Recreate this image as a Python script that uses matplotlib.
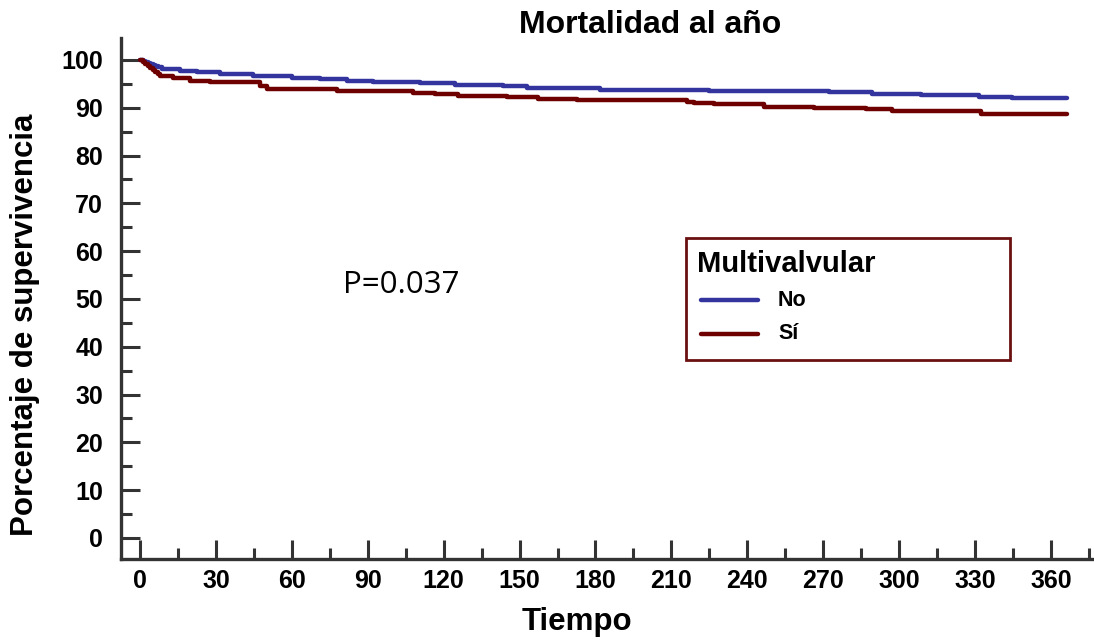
import matplotlib
matplotlib.use("Agg")
import matplotlib.pyplot as plt
from matplotlib.lines import Line2D
from matplotlib.patches import Rectangle
from matplotlib.ticker import MultipleLocator

# ---- data ----
t_no = [0, 1, 2, 3, 4, 5, 6, 7, 8.7, 15.8, 22.5, 31.6, 44.6, 60, 71, 81.7, 92,
        110.5, 124.4, 143.3, 152.8, 181.6, 225, 272.4, 289.4, 308.7, 331.6,
        344.6, 366.4]
s_no = [100, 99.7, 99.5, 99.3, 99.1, 98.9, 98.7, 98.5, 98.1, 97.7, 97.4, 97.1,
        96.65, 96.3, 96.0, 95.7, 95.4, 95.1, 94.8, 94.5, 94.1, 93.8, 93.5,
        93.2, 92.9, 92.6, 92.3, 91.95, 91.95]

t_si = [0, 1, 2, 3, 4, 5, 6, 7, 8, 13, 19.7, 27.6, 47.4, 50.1, 77.8, 107.8,
        116.5, 125.5, 144.9, 157.1, 172.5, 216.3, 219.1, 227, 246.7, 266.5,
        287, 297.3, 332.4, 366.4]
s_si = [100, 99.6, 99.1, 98.7, 98.3, 97.9, 97.5, 97.1, 96.65, 96.2, 95.7,
        95.3, 94.6, 93.9, 93.45, 93.1, 92.8, 92.5, 92.25, 91.9, 91.6, 91.3,
        90.95, 90.7, 90.25, 89.95, 89.7, 89.35, 88.8, 88.8]

series_names = ["No", "Sí"]
x_ticks = list(range(0, 361, 30))
y_ticks = list(range(0, 101, 10))
title = "Mortalidad al año"
xlabel = "Tiempo"
ylabel = "Porcentaje de supervivencia"
legend_title = "Multivalvular"
p_text = "P=0.037"

# ---- style ----
BLUE = "#34349E"
RED = "#6E0000"
AX = "#333333"
FONT = "Liberation Sans"
W, H = 1094, 642

fig = plt.figure(figsize=(W / 100, H / 100), dpi=100)
ax = fig.add_axes([121 / W, 1 - 559 / H, (W - 121) / W, (559 - 38) / H])

ax.plot(t_no, s_no, drawstyle="steps-post", color=BLUE, lw=3.2,
        solid_capstyle="round")
ax.plot(t_si, s_si, drawstyle="steps-post", color=RED, lw=3.2,
        solid_capstyle="round")

ax.set_xlim(-7.5, 377)
ax.set_ylim(-4.4, 104.6)
ax.set_xticks(x_ticks)
ax.set_yticks(y_ticks)
ax.xaxis.set_minor_locator(MultipleLocator(15))
ax.yaxis.set_minor_locator(MultipleLocator(5))
ax.set_xticklabels([str(v) for v in x_ticks], fontfamily=FONT,
                   fontweight="bold", fontsize=18)
ax.set_yticklabels([str(v) for v in y_ticks], fontfamily=FONT,
                   fontweight="bold", fontsize=18)
ax.tick_params(which="major", direction="in", length=14, width=2.2,
               color=AX)
ax.tick_params(which="minor", direction="in", length=8, width=2.2,
               color=AX)
ax.tick_params(axis="y", which="major", pad=13)
ax.tick_params(axis="x", which="major", pad=7)

for side in ["top", "right"]:
    ax.spines[side].set_visible(False)
for side in ["left", "bottom"]:
    ax.spines[side].set_color(AX)
    ax.spines[side].set_linewidth(2.4)

fig.text(650 / W, 1 - 25 / H, title, ha="center", va="center",
         fontfamily=FONT, fontweight="bold", fontsize=23)
fig.text(577 / W, 1 - 622 / H, xlabel, ha="center", va="center",
         fontfamily=FONT, fontweight="bold", fontsize=22.5)
fig.text(25 / W, 1 - 325 / H, ylabel, ha="center", va="center",
         rotation=90, fontfamily=FONT, fontweight="bold", fontsize=22.5)
fig.text(343 / W, 1 - 285 / H, p_text, ha="left", va="center",
         fontfamily="Open Sans", fontsize=22.5)

# legend box (manual)
fig.add_artist(Rectangle((686 / W, 1 - 360 / H), (1010 - 686) / W,
                         (360 - 238) / H, transform=fig.transFigure,
                         fill=False, edgecolor="#6B1010", lw=2))
fig.text(697 / W, 1 - 264 / H, legend_title, ha="left", va="center",
         fontfamily=FONT, fontweight="bold", fontsize=21)
for name, col, yy in zip(series_names, [BLUE, RED], [300, 334]):
    fig.add_artist(Line2D([701 / W, 758 / W], [1 - yy / H, 1 - yy / H],
                          transform=fig.transFigure, color=col, lw=3.2,
                          solid_capstyle="round"))
    fig.text(778 / W, 1 - yy / H, name, ha="left", va="center",
             fontfamily=FONT, fontweight="bold", fontsize=15.5)

fig.savefig("out.png", dpi=100)
